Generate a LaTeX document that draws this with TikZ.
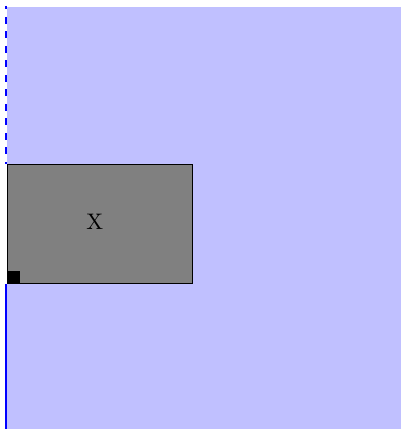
\documentclass[tikz,border=0pt]{standalone}
\usepackage{xcolor}
\usepackage{tikz}
\usetikzlibrary{positioning,calc}
\definecolor{paleblue}{RGB}{192,192,255}
\definecolor{midgray}{RGB}{128,128,128}
\tikzset{
    panel/.style={fill=paleblue,draw=none},
    xbox/.style={rectangle,draw=black,semithin,fill=midgray,minimum width=185pt,minimum height=119pt,inner sep=0pt},
    corner/.style={rectangle,fill=black,minimum size=13pt,inner sep=0pt},
    axisline/.style={draw=blue,line width=1.8pt},
    semithin/.style={line width=0.6pt},
    boxtext/.style={inner sep=0pt,font=\normalsize,scale=2.25,transform shape},
}

\begin{document}
\begin{tikzpicture}[x=1pt,y=1pt]
\useasboundingbox (0,0) rectangle (401,429);
\fill[panel] (7,0) rectangle (401,422);
\node[xbox,anchor=south west]  (box)  at (7,145) {};
\node[boxtext] (boxlabel) at ($(box.center)+(-5,2)$) {X};
\node[corner,anchor=south west] (sq) at (box.south west) {};
\coordinate (axtop) at (6,423);
\coordinate (axbot) at (6,0);
\draw[axisline,dash pattern=on 7pt off 7.5pt,dash phase=3.5pt] (axtop) -- (axtop |- box.north);
\draw[axisline] (axtop |- box.south) -- (axbot);
\end{tikzpicture}
\end{document}
